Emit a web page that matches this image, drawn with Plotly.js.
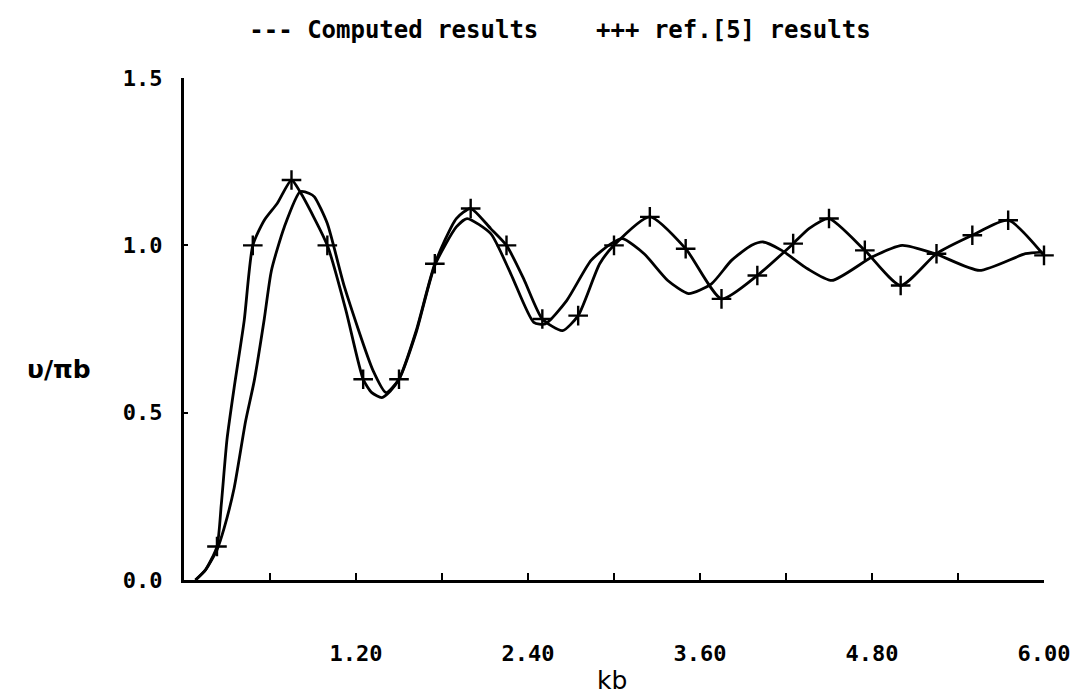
<!DOCTYPE html>
<html>
<head>
<meta charset="utf-8">
<script src="https://cdn.plot.ly/plotly-3.0.1.min.js"></script>
<style>html,body{margin:0;padding:0;background:#fff;}#chart{width:1092px;height:700px;}</style>
</head>
<body>
<div id="chart"></div>
<script>
// Computed results (smooth curve, no markers)
const kbComputed = [0.08, 0.15, 0.23, 0.28, 0.35, 0.43, 0.49, 0.56, 0.61, 0.70, 0.81, 0.875, 0.91, 1.00, 1.12, 1.32, 1.41, 1.50, 1.62, 1.75, 1.90, 1.975, 2.14, 2.28, 2.44, 2.52, 2.67, 2.84, 2.98, 3.06, 3.21, 3.375, 3.52, 3.68, 3.82, 3.96, 4.04, 4.17, 4.35, 4.52, 4.80, 5.01, 5.24, 5.55, 5.87, 5.99];
const vComputed  = [0.00, 0.03, 0.09, 0.155, 0.275, 0.475, 0.595, 0.78, 0.925, 1.055, 1.16, 1.155, 1.145, 1.065, 0.875, 0.625, 0.56, 0.60, 0.74, 0.94, 1.055, 1.08, 1.035, 0.915, 0.77, 0.765, 0.835, 0.955, 1.005, 1.02, 0.975, 0.895, 0.856, 0.885, 0.955, 1.00, 1.01, 0.985, 0.93, 0.895, 0.965, 1.00, 0.975, 0.925, 0.975, 0.98];

// ref.[5] results: curve through the reference points
const kbRefCurve = [0.08, 0.15, 0.23, 0.26, 0.30, 0.35, 0.42, 0.48, 0.56, 0.65, 0.75, 0.81, 1.00, 1.13, 1.25, 1.31, 1.38, 1.44, 1.50, 1.62, 1.75, 1.90, 2.00, 2.14, 2.25, 2.37, 2.50, 2.64, 2.75, 2.90, 3.00, 3.25, 3.50, 3.75, 4.00, 4.25, 4.36, 4.50, 4.75, 5.00, 5.25, 5.50, 5.75, 6.00];
const vRefCurve  = [0.00, 0.03, 0.10, 0.225, 0.42, 0.575, 0.775, 1.00, 1.075, 1.125, 1.195, 1.16, 1.00, 0.805, 0.60, 0.56, 0.545, 0.565, 0.60, 0.745, 0.945, 1.08, 1.11, 1.05, 1.00, 0.90, 0.78, 0.745, 0.79, 0.945, 1.00, 1.085, 0.99, 0.84, 0.91, 1.005, 1.05, 1.08, 0.985, 0.88, 0.975, 1.03, 1.075, 0.97];

// ref.[5] marked points (+)
const kbRefMarks = [0.23, 0.48, 0.75, 1.00, 1.25, 1.50, 1.75, 2.00, 2.25, 2.50, 2.75, 3.00, 3.25, 3.50, 3.75, 4.00, 4.25, 4.50, 4.75, 5.00, 5.25, 5.50, 5.75, 6.00];
const vRefMarks  = [0.10, 1.00, 1.195, 1.00, 0.60, 0.60, 0.945, 1.11, 1.00, 0.78, 0.79, 1.00, 1.085, 0.99, 0.84, 0.91, 1.005, 1.08, 0.985, 0.88, 0.975, 1.03, 1.075, 0.97];

// Axis ticks
const xTickVals = [0.6, 1.2, 1.8, 2.4, 3.0, 3.6, 4.2, 4.8, 5.4, 6.0];
const xTickText = ['', '1.20', '', '2.40', '', '3.60', '', '4.80', '', '6.00'];
const yTickVals = [0, 0.5, 1.0, 1.5];
const yTickText = ['0.0', '0.5', '1.0', '1.5'];

const monoBold = {family: 'DejaVu Sans Mono, Liberation Mono, monospace', weight: 'bold', color: '#000'};

const traces = [
  {x: kbComputed, y: vComputed, type: 'scatter', mode: 'lines', name: 'Computed results',
   line: {color: '#000', width: 2.8, shape: 'spline', smoothing: 0.6}, cliponaxis: false},
  {x: kbRefCurve, y: vRefCurve, type: 'scatter', mode: 'lines', name: 'ref.[5] results',
   line: {color: '#000', width: 2.8, shape: 'spline', smoothing: 0.6}, cliponaxis: false},
  {x: kbRefMarks, y: vRefMarks, type: 'scatter', mode: 'markers', name: 'ref.[5] points',
   marker: {symbol: 'cross-thin', size: 14, color: '#000', line: {color: '#000', width: 2.4}}, cliponaxis: false}
];

const layout = {
  width: 1092, height: 700,
  paper_bgcolor: '#fff', plot_bgcolor: '#fff',
  showlegend: false,
  margin: {l: 184, r: 48, t: 78, b: 120},
  title: {
    text: '--- Computed results&nbsp;&nbsp;&nbsp;&nbsp;+++ ref.[5] results',
    font: Object.assign({size: 24}, monoBold),
    x: 560 / 1092, xref: 'container', xanchor: 'center',
    y: 1 - 30 / 700, yref: 'container', yanchor: 'middle'
  },
  xaxis: {
    range: [0, 6], showgrid: false, zeroline: false,
    showline: true, linecolor: '#000', linewidth: 3,
    tickmode: 'array', tickvals: xTickVals, ticktext: xTickText,
    ticks: 'inside', ticklen: 7, tickwidth: 2, tickcolor: '#000',
    ticklabelstandoff: 52,
    tickfont: Object.assign({size: 22}, monoBold),
    fixedrange: true
  },
  yaxis: {
    range: [0, 1.5], showgrid: false, zeroline: false,
    showline: true, linecolor: '#000', linewidth: 3,
    tickmode: 'array', tickvals: yTickVals, ticktext: yTickText,
    ticks: 'inside', ticklen: 4, tickwidth: 2, tickcolor: '#000',
    ticklabelstandoff: 14,
    tickfont: Object.assign({size: 22}, monoBold),
    fixedrange: true
  },
  annotations: [
    {text: 'υ/πb', xref: 'paper', yref: 'paper', x: -0.145, y: 0.42,
     xanchor: 'center', yanchor: 'middle', showarrow: false,
     font: {family: 'DejaVu Sans, sans-serif', size: 25, weight: 'bold', color: '#000'}},
    {text: 'kb', xref: 'paper', yref: 'paper', x: 0.498, y: 0, yshift: -100,
     xanchor: 'center', yanchor: 'middle', showarrow: false,
     font: {family: 'DejaVu Sans, sans-serif', size: 25, color: '#000'}}
  ]
};

Plotly.newPlot('chart', traces, layout, {displayModeBar: false, staticPlot: true});
</script>
</body>
</html>
